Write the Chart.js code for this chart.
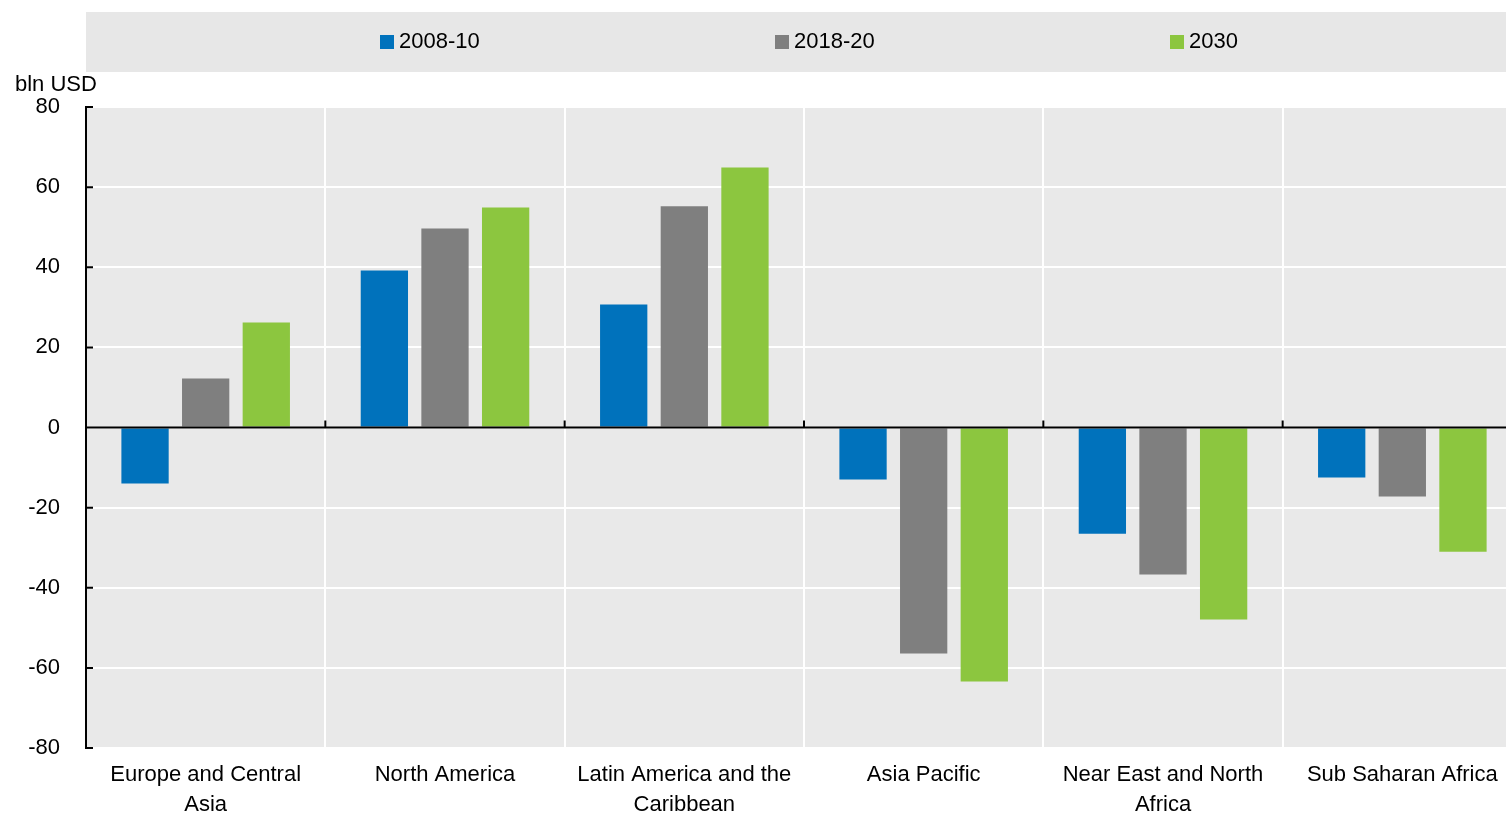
<!DOCTYPE html>
<html>
<head>
<meta charset="utf-8">
<script src="https://cdn.jsdelivr.net/npm/chart.js@4"></script>
<style>
html,body{margin:0;padding:0;background:#fff;overflow:hidden}
#wrap{width:1506px;height:818px;overflow:hidden}
</style>
</head>
<body>
<div id="wrap"><canvas id="myChart" width="1530" height="818"></canvas></div>
<script>
var regions = [['Europe and Central','Asia'], 'North America', ['Latin America and the','Caribbean'], 'Asia Pacific', ['Near East and North','Africa'], 'Sub Saharan Africa'];
var years = ['2008-10', '2018-20', '2030'];
var v2008 = [-14, 39.2, 30.7, -13, -26.5, -12.5];
var v2018 = [12.2, 49.7, 55.2, -56.4, -36.7, -17.2];
var v2030 = [26.2, 54.9, 64.9, -63.4, -47.9, -31];
var yTicks = [-80, -60, -40, -20, 0, 20, 40, 60, 80];
var unit = 'bln USD';

var colors = ['#0072bc', '#7f7f7f', '#8cc63f'];
var FONT = 'Arial, "Liberation Sans", sans-serif';

Chart.defaults.font.family = FONT;
Chart.defaults.font.size = 22;
Chart.defaults.color = '#000';

// background, legend band, unit label, zero line and inward ticks
var look = {
    id: 'look',
    beforeDraw: function(chart){
        var ctx = chart.ctx, a = chart.chartArea;
        ctx.save();
        ctx.fillStyle = '#e9e9e9';
        ctx.fillRect(a.left, a.top, a.right - a.left, a.bottom - a.top);
        ctx.fillStyle = '#e7e7e7';
        ctx.fillRect(a.left, 12, a.right - a.left, 60);

        ctx.font = '22px ' + FONT;
        ctx.textBaseline = 'middle';
        ctx.textAlign = 'left';
        chart.data.datasets.forEach(function(d, i){
            var x = 380 + i * 395;
            ctx.fillStyle = d.backgroundColor;
            ctx.fillRect(x, 35, 14, 14);
            ctx.fillStyle = '#000';
            ctx.fillText(d.label, x + 19, 42);
        });
        ctx.fillText(unit, 15, 85);
        ctx.restore();
    },
    afterDatasetsDraw: function(chart){
        var ctx = chart.ctx, a = chart.chartArea;
        var y = chart.scales.y, x = chart.scales.x;
        var y0 = y.getPixelForValue(0);
        ctx.save();
        ctx.strokeStyle = '#000';
        ctx.lineWidth = 2;
        ctx.beginPath();
        ctx.moveTo(a.left, y0);
        ctx.lineTo(a.right, y0);
        yTicks.forEach(function(v){
            var p = y.getPixelForValue(v);
            ctx.moveTo(a.left, p);
            ctx.lineTo(a.left + 7, p);
        });
        for (var i = 1; i < regions.length; i++) {
            var b = (x.getPixelForValue(i - 1) + x.getPixelForValue(i)) / 2;
            ctx.moveTo(b, y0);
            ctx.lineTo(b, y0 - 7);
        }
        ctx.stroke();
        ctx.restore();
    }
};

var myChart = document.getElementById('myChart').getContext('2d');

var chart = new Chart(myChart, {
    type: 'bar',
    data: {
        labels: regions,
        datasets: [{
            label: years[0],
            data: v2008,
            backgroundColor: colors[0]
        },
        {
            label: years[1],
            data: v2018,
            backgroundColor: colors[1]
        },
        {
            label: years[2],
            data: v2030,
            backgroundColor: colors[2]
        }]
    },
    options: {
        responsive: false,
        animation: false,
        categoryPercentage: 0.76,
        barPercentage: 0.78,
        layout: { padding: { top: 107, left: 0, right: 8, bottom: 0 } },
        plugins: {
            legend: { display: false },
            tooltip: { enabled: false }
        },
        scales: {
            x: {
                grid: { offset: true, color: '#fff', lineWidth: 2, drawTicks: false },
                border: { display: false },
                ticks: { padding: 12, maxRotation: 0, autoSkip: false, font: { size: 22, lineHeight: 1.36 } },
                afterFit: function(s){ s.height = 70; }
            },
            y: {
                min: -80,
                max: 80,
                afterBuildTicks: function(s){ s.ticks = yTicks.map(function(v){ return { value: v }; }); },
                grid: { color: '#fff', lineWidth: 2, drawTicks: false },
                border: { color: '#000', width: 2 },
                ticks: { padding: 26 },
                afterFit: function(s){ s.width = 86; }
            }
        }
    },
    plugins: [look]
});
</script>
</body>
</html>
